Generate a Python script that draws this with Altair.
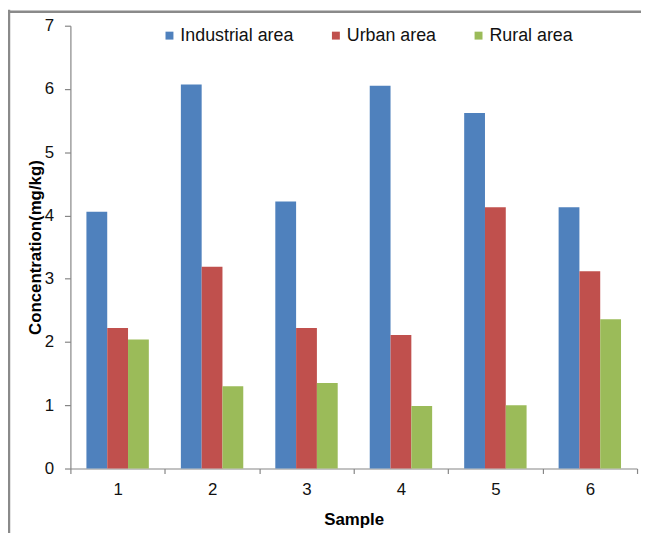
import altair as alt
import pandas as pd

samples = ["1", "2", "3", "4", "5", "6"]
areas = ["Industrial area", "Urban area", "Rural area"]
industrial = [4.06, 6.07, 4.22, 6.05, 5.62, 4.13]
urban = [2.22, 3.19, 2.22, 2.11, 4.13, 3.12]
rural = [2.04, 1.30, 1.35, 0.99, 1.00, 2.36]
colors = ["#4F81BD", "#C0504D", "#9BBB59"]
y_ticks = [0, 1, 2, 3, 4, 5, 6, 7]

rows = []
for i, s in enumerate(samples):
    for a, vals in zip(areas, [industrial, urban, rural]):
        rows.append({"Sample": s, "Area": a, "Value": vals[i]})
df = pd.DataFrame(rows)

W = 572
H = 447
FONT = "Liberation Sans"
AX = "#868686"

bars = alt.Chart(df).mark_bar().encode(
    x=alt.X("Sample:N", sort=samples,
            scale=alt.Scale(paddingInner=0, paddingOuter=0),
            axis=alt.Axis(title="Sample", labelAngle=0, tickBand="extent",
                          labelFont=FONT, labelFontSize=17, labelColor="#111111",
                          labelPadding=8, tickSize=5, tickColor=AX, domainColor=AX,
                          domainWidth=1.2, tickWidth=1.2,
                          titleFont=FONT, titleFontSize=17, titleFontWeight="bold",
                          titleColor="#000000", titleY=52, titleBaseline="middle",
                          grid=False)),
    xOffset=alt.XOffset("Area:N", sort=areas,
                        scale=alt.Scale(paddingInner=0, paddingOuter=0.77)),
    y=alt.Y("Value:Q", scale=alt.Scale(domain=[0, 7], nice=False),
            axis=alt.Axis(values=y_ticks, title="Concentration(mg/kg)",
                          labelFont=FONT, labelFontSize=17, labelColor="#111111",
                          labelPadding=11, tickSize=6, tickColor=AX, domainColor=AX,
                          domainWidth=1.2, tickWidth=1.2,
                          titleFont=FONT, titleFontSize=17, titleFontWeight="bold",
                          titleColor="#000000", titleX=-35, titleBaseline="middle",
                          grid=False)),
    color=alt.Color("Area:N", sort=areas,
                    scale=alt.Scale(domain=areas, range=colors),
                    legend=alt.Legend(orient="none", legendX=91, legendY=1,
                                      direction="horizontal", title=None,
                                      symbolType="square", symbolSize=64,
                                      symbolStrokeWidth=0, labelFont=FONT,
                                      labelFontSize=18, labelColor="#111111",
                                      labelOffset=2, columnPadding=33, padding=0)),
)

frame_df = pd.DataFrame({"k": [0]})
left_line = alt.Chart(frame_df).mark_rule(color="#8a8a8a", strokeWidth=2.5).encode(
    x=alt.value(-62), y=alt.value(-16), y2=alt.value(H + 80))
top_line = alt.Chart(frame_df).mark_rule(color="#8a8a8a", strokeWidth=2.5).encode(
    x=alt.value(-63), x2=alt.value(W + 4), y=alt.value(-14.2))

chart = alt.layer(bars, left_line, top_line).properties(
    width=W, height=H,
    autosize=alt.AutoSizeParams(type="none"),
    padding={"left": 63, "top": 15.4, "right": 4, "bottom": 63},
    background="white",
).configure_view(stroke="transparent", strokeWidth=0).configure_axis(grid=False)

chart.save("out.html", embed_options={"renderer": "svg", "actions": False})
